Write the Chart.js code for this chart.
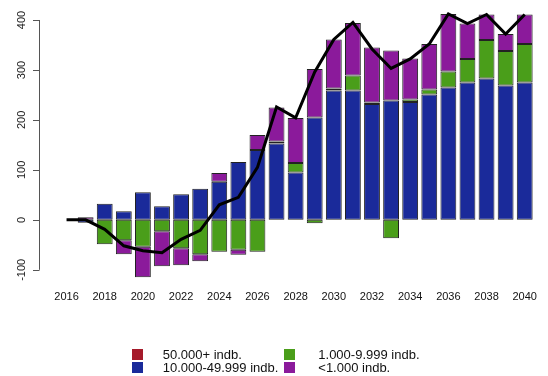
<!DOCTYPE html>
<html>
<head>
<meta charset="utf-8">
<script src="https://cdn.jsdelivr.net/npm/chart.js@4.4.0/dist/chart.umd.min.js"></script>
<style>
  html, body { margin: 0; padding: 0; background: #fff; }
  #wrap { position: relative; width: 548px; height: 376px; }
  #legend { position: absolute; left: 0; top: 0; width: 548px; height: 376px; pointer-events: none;
            font-family: "Liberation Sans", Arial, sans-serif; font-size: 13px; color: #111; }
  .sw { position: absolute; width: 11px; height: 11px; }
  .lt { position: absolute; line-height: 13px; white-space: nowrap; }
</style>
</head>
<body>
<div id="wrap">
  <canvas id="chart" width="548" height="376"></canvas>
  <div id="legend"></div>
</div>
<script>
const years = ["2016","2017","2018","2019","2020","2021","2022","2023","2024","2025","2026","2027","2028",
  "2029","2030","2031","2032","2033","2034","2035","2036","2037","2038","2039","2040"];

// Endringer per kommunestørrelse
const big = [0,0,0,0,0,0,0,0,0,0,0,0,0,0,0,0,0,0,0,0,0,0,0,0,0];
const mid = [0,-6,32,17,55,27,51,62,76,116,140,153,95,205,259,259,232,239,236,251,265,275,283,269,275];
const small = [0,0,-49,-41,-54,-23,-57,-69,-64,-60,-64,4,19,-7,4,30,3,-37,5,10,32,47,77,69,77];
const tiny = [0,5,0,-28,-61,-70,-34,-14,18,-10,30,68,90,97,98,105,110,100,82,91,115,71,51,34,59];
const total = [0,0,-19,-52,-62,-66,-39,-21,30,45,105,226,204,296,361,395,342,303,322,352,412,393,411,372,411];

const yTicks = [-100, 0, 100, 200, 300, 400];

const FONT = "'Liberation Sans', Arial, sans-serif";
const EDGE = "#222222";

const legendItems = [
  { label: "50.000+ indb.", color: "#a51a2a" },
  { label: "10.000-49.999 indb.", color: "#1a2a9a" },
  { label: "1.000-9.999 indb.", color: "#4a9e1a" },
  { label: "<1.000 indb.", color: "#8b1a9b" },
];

function barSet(label, data, color) {
  return {
    type: "bar",
    label: label,
    data: data,
    backgroundColor: color,
    borderColor: EDGE,
    borderWidth: 1,
    borderSkipped: false,
    barPercentage: 0.83,
    categoryPercentage: 1,
    stack: "bars",
    order: 1,
  };
}

// R-style y axis: line only over tick range, rotated labels
const rAxis = {
  id: "rAxis",
  afterDraw(chart) {
    const ctx = chart.ctx;
    const y = chart.scales.y;
    const x0 = chart.chartArea.left - 18;
    ctx.save();
    ctx.strokeStyle = "#555";
    ctx.lineWidth = 1;
    ctx.beginPath();
    ctx.moveTo(x0 + 0.5, y.getPixelForValue(yTicks[0]));
    ctx.lineTo(x0 + 0.5, y.getPixelForValue(yTicks[yTicks.length - 1]));
    yTicks.forEach(v => {
      const py = Math.round(y.getPixelForValue(v)) + 0.5;
      ctx.moveTo(x0 + 0.5, py);
      ctx.lineTo(x0 - 6, py);
    });
    ctx.stroke();
    ctx.fillStyle = "#222";
    ctx.font = "11px " + FONT;
    ctx.textAlign = "center";
    ctx.textBaseline = "middle";
    yTicks.forEach(v => {
      ctx.save();
      ctx.translate(x0 - 17, y.getPixelForValue(v));
      ctx.rotate(-Math.PI / 2);
      ctx.fillText(String(v), 0, 0);
      ctx.restore();
    });
    ctx.restore();
  },
};

new Chart(document.getElementById("chart"), {
  data: {
    labels: years,
    datasets: [
      barSet(legendItems[0].label, big, legendItems[0].color),
      barSet(legendItems[1].label, mid, legendItems[1].color),
      barSet(legendItems[2].label, small, legendItems[2].color),
      barSet(legendItems[3].label, tiny, legendItems[3].color),
      {
        type: "line",
        label: "I alt",
        data: total,
        borderColor: "#000",
        borderWidth: 3,
        pointRadius: 0,
        tension: 0,
        fill: false,
        stack: "total",
        order: 0,
      },
    ],
  },
  options: {
    responsive: false,
    animation: false,
    layout: { padding: { left: 57, right: 2, top: 10, bottom: 61 } },
    plugins: { legend: { display: false }, tooltip: { enabled: false } },
    scales: {
      x: {
        stacked: true,
        grid: { display: false, drawTicks: false },
        border: { display: false },
        ticks: {
          autoSkip: false,
          maxRotation: 0,
          padding: 11,
          color: "#111",
          font: { family: FONT, size: 11 },
          callback: (v, i) => (i % 2 === 0 ? years[i] : ""),
        },
      },
      y: {
        stacked: true,
        display: false,
        min: -120,
        max: 420,
      },
    },
  },
  plugins: [rAxis],
});

// Legend, 2 columns like the original
const legendEl = document.getElementById("legend");
const cols = [131.7, 284.3];
const textX = [162.7, 318.3];
const rows = [348.5, 361.8];
legendItems.forEach((it, i) => {
  const c = Math.floor(i / 2), r = i % 2;
  const sw = document.createElement("div");
  sw.className = "sw";
  sw.style.left = cols[c] + "px";
  sw.style.top = rows[r] + "px";
  sw.style.background = it.color;
  legendEl.appendChild(sw);
  const t = document.createElement("div");
  t.className = "lt";
  t.style.left = textX[c] + "px";
  t.style.top = (rows[r] - 1) + "px";
  t.textContent = it.label;
  legendEl.appendChild(t);
});
</script>
</body>
</html>
